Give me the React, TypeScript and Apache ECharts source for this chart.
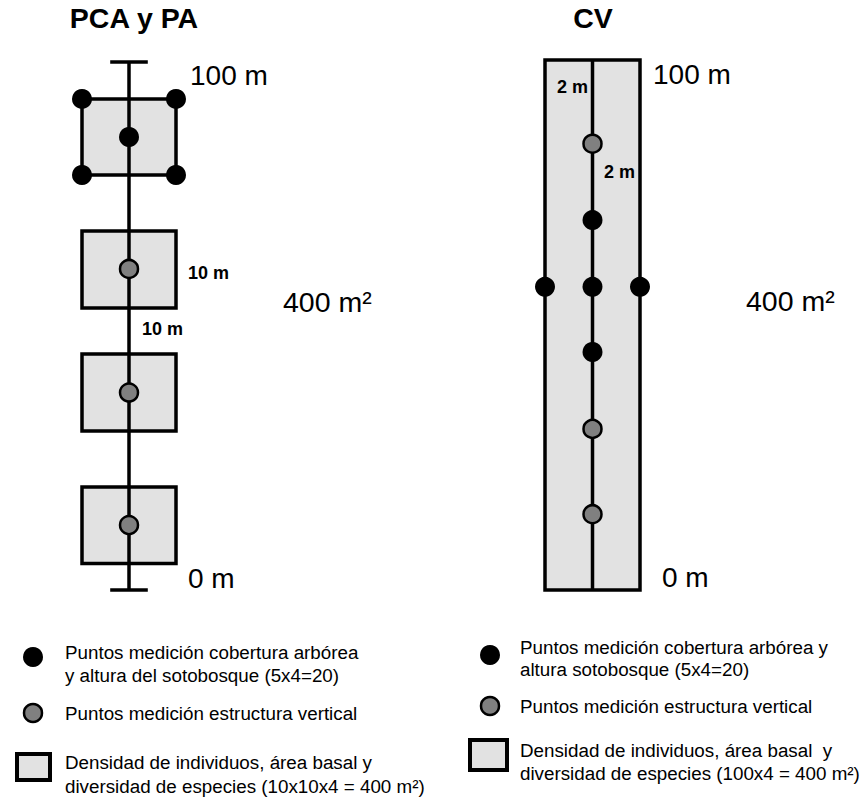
import React, { useEffect, useRef } from "react";
import * as echarts from "echarts";

// Schematic coordinates: x = lateral offset (m), y = position along the 100 m transect (schematic)
const pcaPlots = [
  [-5, 5, 5, 19.5],
  [-5, 5, 30.1, 44.7],
  [-5, 5, 53.4, 68],
  [-5, 5, 78.6, 93],
];
const pcaCanopyPoints = [
  [-5, 93],
  [5, 93],
  [0, 85.8],
  [-5, 78.6],
  [5, 78.6],
];
const pcaVerticalPoints = [
  [0, 60.8],
  [0, 37.4],
  [0, 12.3],
];
const cvStrip = [[-2, 2, 0, 100]];
const cvCanopyPoints = [
  [0, 69.8],
  [-2, 57.2],
  [0, 57.2],
  [2, 57.2],
  [0, 44.9],
];
const cvVerticalPoints = [
  [0, 84.2],
  [0, 30.4],
  [0, 14.3],
];
const transectLine = [
  [0, 0],
  [0, 100],
];
const capBottom = [
  [-2, 0],
  [2, 0],
];
const capTop = [
  [-2, 100],
  [2, 100],
];

const titles = ["PCA y PA", "CV"];
const distanceLabels = ["100 m", "0 m"];
const areaLabel = "400 m²";
const spacingPCA = ["10 m", "10 m"];
const spacingCV = ["2 m", "2 m"];
const legendLeft = [
  ["Puntos medición cobertura arbórea", "y altura del sotobosque (5x4=20)"],
  ["Puntos medición estructura vertical"],
  ["Densidad de individuos, área basal y", "diversidad de especies (10x10x4 = 400 m²)"],
];
const legendRight = [
  ["Puntos medición cobertura arbórea y", "altura sotobosque (5x4=20)"],
  ["Puntos medición estructura vertical"],
  ["Densidad de individuos, área basal  y", "diversidad de especies (100x4 = 400 m²)"],
];

const FONT = "'Liberation Sans', Arial, sans-serif";
const FILL = "#e2e2e2";
const GRAY = "#808080";

function rectItem(params: any, api: any) {
  const x0 = api.value(0);
  const x1 = api.value(1);
  const y0 = api.value(2);
  const y1 = api.value(3);
  const p0 = api.coord([x0, y1]);
  const p1 = api.coord([x1, y0]);
  return {
    type: "rect",
    shape: { x: p0[0], y: p0[1], width: p1[0] - p0[0], height: p1[1] - p0[1] },
    style: { fill: FILL, stroke: "#000", lineWidth: 3.5 },
  };
}

function txt(text: string, x: number, y: number, size: number, bold = false, align = "left") {
  return {
    type: "text",
    x,
    y,
    z: 100,
    silent: true,
    style: {
      text,
      fill: "#000",
      font: `${bold ? "bold " : ""}${size}px ${FONT}`,
      textAlign: align,
      textVerticalAlign: "middle",
    },
  };
}

export default function App() {
  const ref = useRef<HTMLDivElement>(null);
  useEffect(() => {
    if (!ref.current) return;
    const chart = echarts.init(ref.current, undefined, { renderer: "svg" });
    const hiddenAxis = (min: number, max: number, gridIndex: number) => ({
      type: "value",
      min,
      max,
      gridIndex,
      show: false,
      splitLine: { show: false },
    });
    const lineSeries = (data: number[][], idx: number) => ({
      type: "line",
      data,
      xAxisIndex: idx,
      yAxisIndex: idx,
      symbol: "none",
      lineStyle: { color: "#000", width: 3.5 },
      z: 2,
      silent: true,
      clip: false,
    });
    const scatter = (data: number[][], idx: number, vertical: boolean) => ({
      type: "scatter",
      data,
      xAxisIndex: idx,
      yAxisIndex: idx,
      symbol: "circle",
      symbolSize: vertical ? 18 : 20,
      itemStyle: vertical
        ? { color: GRAY, borderColor: "#000", borderWidth: 2.5, opacity: 1 }
        : { color: "#000", opacity: 1 },
      z: 3,
      silent: true,
      clip: false,
    });

    const legendBlock = (
      lines: string[][],
      dotX: number,
      textX: number,
      rows: number[][],
      dotY: number[],
      sq: number[]
    ) => {
      const els: any[] = [];
      els.push({ type: "circle", shape: { cx: dotX, cy: dotY[0], r: 10 }, style: { fill: "#000" } });
      els.push({
        type: "circle",
        shape: { cx: dotX, cy: dotY[1], r: 9 },
        style: { fill: GRAY, stroke: "#000", lineWidth: 2.5 },
      });
      els.push({
        type: "rect",
        shape: { x: sq[0], y: sq[1], width: sq[2], height: sq[3] },
        style: { fill: FILL, stroke: "#000", lineWidth: 4 },
      });
      lines.forEach((grp, i) => {
        grp.forEach((t, j) => els.push(txt(t, textX, rows[i][j], 18.8)));
      });
      return els;
    };

    chart.setOption({
      animation: false,
      backgroundColor: "#fff",
      grid: [
        { left: 82, top: 62, width: 94, height: 528 },
        { left: 545, top: 60, width: 95, height: 530 },
      ],
      xAxis: [hiddenAxis(-5, 5, 0), hiddenAxis(-2, 2, 1)],
      yAxis: [hiddenAxis(0, 100, 0), hiddenAxis(0, 100, 1)],
      series: [
        {
          type: "custom",
          renderItem: rectItem,
          data: pcaPlots,
          encode: { x: [0, 1], y: [2, 3] },
          xAxisIndex: 0,
          yAxisIndex: 0,
          z: 1,
          silent: true,
          clip: false,
        },
        {
          type: "custom",
          renderItem: rectItem,
          data: cvStrip,
          encode: { x: [0, 1], y: [2, 3] },
          xAxisIndex: 1,
          yAxisIndex: 1,
          z: 1,
          silent: true,
          clip: false,
        },
        lineSeries(transectLine, 0),
        lineSeries(capBottom, 0),
        lineSeries(capTop, 0),
        lineSeries(transectLine, 1),
        scatter(pcaCanopyPoints, 0, false),
        scatter(pcaVerticalPoints, 0, true),
        scatter(cvCanopyPoints, 1, false),
        scatter(cvVerticalPoints, 1, true),
      ],
      graphic: [
        txt(titles[0], 134, 18, 28.5, true, "center"),
        txt(titles[1], 593, 18, 28.5, true, "center"),
        txt(distanceLabels[0], 190, 75, 28),
        txt(distanceLabels[1], 188, 578, 28),
        txt(distanceLabels[0], 653, 74, 28),
        txt(distanceLabels[1], 662, 577, 28),
        txt(areaLabel, 283, 302, 28.5),
        txt(areaLabel, 746, 301, 28.5),
        txt(spacingPCA[0], 188, 273, 18, true),
        txt(spacingPCA[1], 142, 329, 18, true),
        txt(spacingCV[0], 557, 87, 18, true),
        txt(spacingCV[1], 604, 172, 18, true),
        ...legendBlock(legendLeft, 33, 65, [[652, 675], [713], [762, 786]], [657, 713], [17, 754, 33, 26]),
        ...legendBlock(legendRight, 490, 520, [[647, 669], [706], [750, 773]], [655, 706], [470, 740, 37, 30]),
      ],
    });
    return () => chart.dispose();
  }, []);
  return (
    <div
      ref={ref}
      style={{ position: "absolute", left: 0, top: 0, width: 864, height: 799, background: "#fff" }}
    />
  );
}
